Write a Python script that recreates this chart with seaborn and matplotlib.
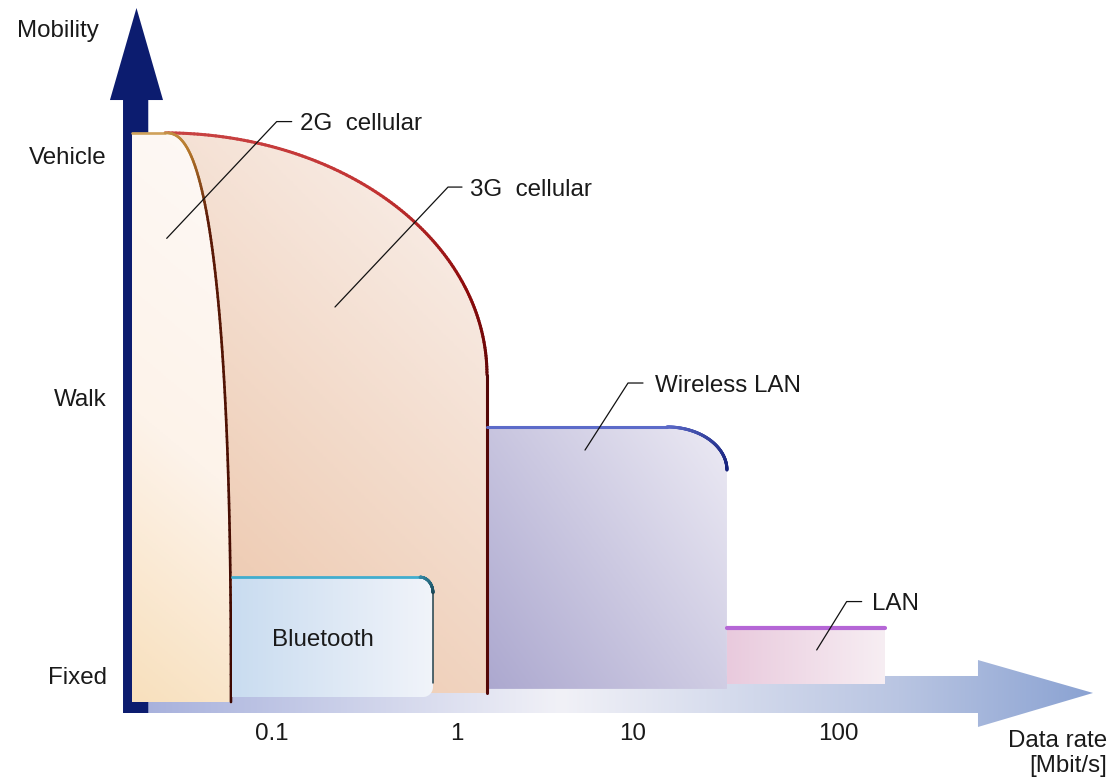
import numpy as np
import matplotlib
matplotlib.use("Agg")
import matplotlib.pyplot as plt
import matplotlib.transforms as mtransforms
import seaborn as sns
from matplotlib.patches import Polygon
from matplotlib.collections import LineCollection
from matplotlib.colors import LinearSegmentedColormap
from matplotlib.ticker import NullLocator

# values (data rate in Mbit/s, mobility on a 0=Fixed .. 2=Vehicle scale)
techs = ["2G  cellular", "3G  cellular", "Bluetooth", "Wireless LAN", "LAN"]
rate_min = [0.0184, 0.0184, 0.0632, 1.467, 28.3]
rate_max = [0.0624, 1.467, 0.754, 28.3, 199.0]
mobility_top = [2.065, 2.065, 0.376, 0.947, 0.183]
mobility_bottom = [-0.099, -0.065, -0.080, -0.049, -0.030]

rate_ticks = [0.1, 1, 10, 100]
rate_labels = ["0.1", "1", "10", "100"]
mobility_ticks = [0, 1.06, 1.98]
mobility_labels = ["Fixed", "Walk", "Vehicle"]

# shape of the rounded top-right corner: (rate where bend starts, mobility where it ends, exponent)
corner = {
    "2G  cellular": (0.0277, -0.099, 2.5),
    "3G  cellular": (0.0277, 1.145, 2.0),
    "Bluetooth": (0.642, 0.316, 2.0),
    "Wireless LAN": (13.5, 0.783, 2.0),
    "LAN": (199.0, 0.183, 2.0),
}

# label anchor (rate, mobility) and leader line points
label_pos = {
    "2G  cellular": (0.1462, 2.108),
    "3G  cellular": (1.190, 1.859),
    "Bluetooth": (0.1942, 0.148),
    "Wireless LAN": (11.65, 1.114),
    "LAN": (169.3, 0.283),
}
leaders = {
    "2G  cellular": ([0.02825, 0.1097, 0.1320], [1.664, 2.108, 2.108]),
    "3G  cellular": ([0.2251, 0.9072, 1.0782], [1.403, 1.859, 1.859]),
    "Wireless LAN": ([4.915, 8.355, 10.05], [0.859, 1.114, 1.114]),
    "LAN": ([85.6, 123.9, 149.1], [0.099, 0.283, 0.283]),
}

fills = {
    "2G  cellular": ([(0, "#f8e0bd"), (0.45, "#fdf3ea"), (1, "#fef9f6")], 50),
    "3G  cellular": ([(0, "#ebc1a3"), (1, "#faf2ee")], 45),
    "Bluetooth": ([(0, "#c9dcf0"), (1, "#f1f4fa")], 0),
    "Wireless LAN": ([(0, "#aca8cf"), (1, "#eceaf4")], 35),
    "LAN": ([(0, "#e9cadd"), (1, "#f7eef3")], 0),
}
edges = {
    "2G  cellular": ([(0, "#d6ad68"), (0.1, "#b77a2c"), (0.22, "#5c1a06"), (1, "#3c0600")], 1.9),
    "3G  cellular": ([(0, "#c94444"), (0.3, "#c23232"), (0.47, "#8c0b0b"), (0.6, "#5e0606"), (1, "#4a0808")], 2.2),
    "Bluetooth": ([(0, "#46b2d2"), (0.85, "#3ca8ca"), (1, "#1c4d5e")], 2.0),
    "Wireless LAN": ([(0, "#5e6ecb"), (0.7, "#5a68c6"), (1, "#15217c")], 2.2),
    "LAN": ([(0, "#b566d6"), (1, "#b566d6")], 3.0),
}
zorders = {"2G  cellular": 4, "3G  cellular": 3, "Bluetooth": 5, "Wireless LAN": 3, "LAN": 3}

sns.set_theme(style="white")
plt.rcParams["font.family"] = ["Liberation Sans", "DejaVu Sans"]
TXT = "#1a1a1a"
FS = 17.4

fig = plt.figure(figsize=(11.15, 7.8), dpi=100)
ax = fig.add_axes([125 / 1115, 67 / 780, 990 / 1115, 713 / 780])
ax.set_xscale("log")
XLIM, YLIM = (0.01689, 3391), (-0.1407, 2.5703)
ax.set_xlim(*XLIM)
ax.set_ylim(*YLIM)
AX_W, AX_H = 990, 713


def gradient_fill(xs, ys, stops, angle, z, transform=None, clip_fig=False):
    transform = transform or ax.transData
    pts = np.column_stack([xs, ys])
    patch = Polygon(pts, closed=True, transform=transform, fc="none", ec="none")
    ax.add_patch(patch)
    to_axes = transform + ax.transAxes.inverted()
    apts = to_axes.transform(pts)
    (x0, y0), (x1, y1) = apts.min(axis=0), apts.max(axis=0)
    w, h = (x1 - x0) * AX_W, (y1 - y0) * AX_H
    u, v = np.meshgrid(np.linspace(0, 1, 256), np.linspace(0, 1, 256))
    a = np.radians(angle)
    t = u * w * np.cos(a) + v * h * np.sin(a)
    t = (t - t.min()) / (t.max() - t.min())
    cmap = LinearSegmentedColormap.from_list("g", stops)
    im = ax.imshow(t, cmap=cmap, vmin=0, vmax=1, extent=(x0, x1, y0, y1), origin="lower",
                   aspect="auto", interpolation="bilinear", transform=ax.transAxes, zorder=z)
    im.set_clip_path(patch)
    if clip_fig:
        im.set_clip_box(fig.bbox)


def gradient_line(ls, ms, stops, lw, z):
    pts = np.column_stack([10 ** np.asarray(ls), np.asarray(ms)])
    disp = ax.transData.transform(pts)
    d = np.r_[0, np.cumsum(np.hypot(*np.diff(disp, axis=0).T))]
    frac = 0.5 * (d[:-1] + d[1:]) / d[-1]
    cmap = LinearSegmentedColormap.from_list("e", stops)
    segs = np.stack([pts[:-1], pts[1:]], axis=1)
    lc = LineCollection(segs, colors=cmap(frac), linewidths=lw, capstyle="round", zorder=z)
    ax.add_collection(lc, autolim=False)


# x axis: broad shaded arrow
band = np.array([(0, 0), (0.8616, 0), (0.8616, -0.0196), (0.9778, 0.0281),
                 (0.8616, 0.0743), (0.8616, 0.0519), (0, 0.0519)])
gradient_fill(band[:, 0], band[:, 1],
              [(0, "#a4aedb"), (0.45, "#f1f1f7"), (0.8, "#b9c5e2"), (1, "#8aa2d2")],
              0, 1, transform=ax.transAxes, clip_fig=True)

# y axis: dark arrow
y_arrow = [(-0.002, 0), (0.0235, 0), (0.0235, 0.8597), (0.0384, 0.8597),
           (0.0116, 0.9888), (-0.0152, 0.8597), (-0.002, 0.8597)]
ax.add_patch(Polygon(y_arrow, closed=True, transform=ax.transAxes, fc="#0c1c6f",
                     ec="none", zorder=2, clip_on=False))

for i, name in enumerate(techs):
    l0, l1 = np.log10([rate_min[i], rate_max[i]])
    m0, m1 = mobility_bottom[i], mobility_top[i]
    rc, mc, n = corner[name]
    lc = np.log10(rc)
    t = np.linspace(np.pi / 2, 0, 140)
    arc_l = lc + (l1 - lc) * np.cos(t) ** (2 / n)
    arc_m = mc + (m1 - mc) * np.sin(t) ** (2 / n)

    if name == "Bluetooth":
        lb, mb = np.log10(0.666), -0.0418
        s = np.linspace(0, np.pi / 2, 30)
        right_l = lb + (l1 - lb) * np.cos(s)
        right_m = mb - (mb - m0) * np.sin(s)
    else:
        right_l, right_m = np.array([l1]), np.array([m0])

    poly_l = np.r_[l0, l0, arc_l, right_l]
    poly_m = np.r_[m0, m1, arc_m, right_m]
    z = zorders[name]
    stops, angle = fills[name]
    gradient_fill(10 ** poly_l, poly_m, stops, angle, z)

    estops, lw = edges[name]
    if name == "3G  cellular":
        gradient_line(np.r_[arc_l, l1], np.r_[arc_m, m0], estops, lw, z + 0.5)
    else:
        gradient_line(np.r_[l0, arc_l], np.r_[m1, arc_m], estops, lw, z + 0.5)
    if name == "Bluetooth":
        ax.plot([rate_max[i], rate_max[i]], [mc, -0.027], color="#21414c", lw=1.1, zorder=z + 0.5)

# leader lines and labels
for name, (lr, lm) in leaders.items():
    sns.lineplot(x=lr, y=lm, sort=False, estimator=None, color="#111111",
                 linewidth=0.9, ax=ax, zorder=8)
for name, (xr, ym) in label_pos.items():
    ha = "center" if name == "Bluetooth" else "left"
    ax.text(xr, ym, name, ha=ha, va="center_baseline", fontsize=FS, color=TXT, zorder=9)

ax.set_xticks(rate_ticks, labels=rate_labels)
ax.xaxis.set_minor_locator(NullLocator())
ax.set_yticks(mobility_ticks, labels=mobility_labels)
ax.tick_params(axis="x", length=0, pad=7, labelsize=FS, labelcolor=TXT)
ax.tick_params(axis="y", length=0, pad=13, labelsize=FS, labelcolor=TXT)
# the printed scale is not exactly logarithmic: nudge labels to where they sit in the original
for lab, dx in zip(ax.get_xticklabels(), [3, 1, -10, 9]):
    lab.set_transform(lab.get_transform() + mtransforms.ScaledTranslation(dx / 100, 0, fig.dpi_scale_trans))
for sp in ax.spines.values():
    sp.set_visible(False)
ax.set_xlabel("")
ax.set_ylabel("")
ax.grid(False)

ax.text(-0.0677, 0.948, "Mobility", transform=ax.transAxes, ha="center", va="baseline",
        fontsize=FS, color=TXT)
ax.text(0.992, -0.0477, "Data rate", transform=ax.transAxes, ha="right", va="baseline",
        fontsize=FS, color=TXT)
ax.text(0.992, -0.0827, "[Mbit/s]", transform=ax.transAxes, ha="right", va="baseline",
        fontsize=FS, color=TXT)

ax.set_xlim(*XLIM)
ax.set_ylim(*YLIM)
fig.savefig("out.png", dpi=100)
plt.close(fig)
